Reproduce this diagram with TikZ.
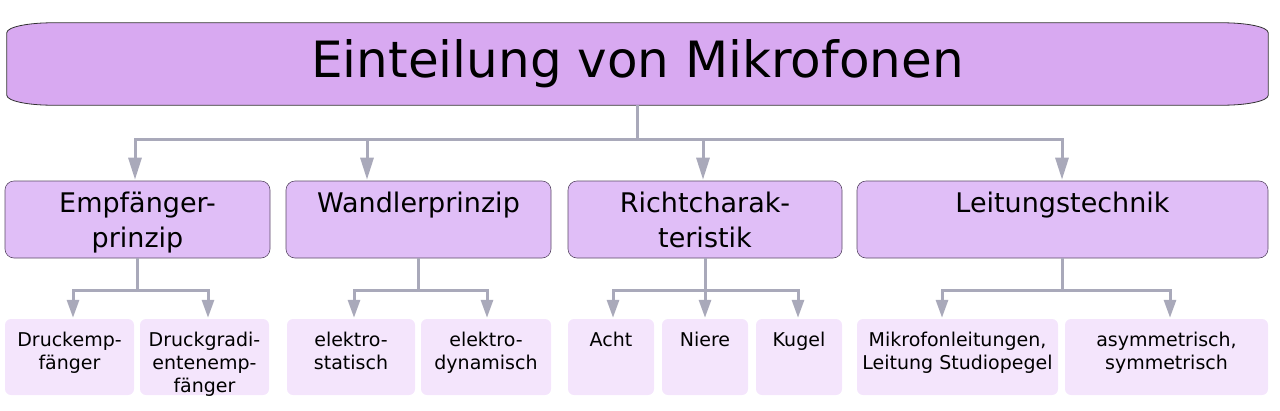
\documentclass[tikz,border=0pt]{standalone}
\usepackage{fontspec}
\setmainfont{DejaVu Sans}
\usetikzlibrary{arrows.meta,calc}
\definecolor{topfill}{HTML}{D8A9F1}
\definecolor{midfill}{HTML}{E0BEF7}
\definecolor{lowfill}{HTML}{F4E5FC}
\definecolor{linecol}{HTML}{A9A9BA}
\definecolor{edgecol}{HTML}{5A4A66}
\tikzset{
  topbox/.style={inner sep=0pt, minimum width=1261pt, minimum height=82pt, font=\fontsize{50}{60}\selectfont},
  midbox/.style={inner sep=0pt, fill=midfill, draw=edgecol, line width=0.6pt, rounded corners=9pt},
  lowbox/.style={inner sep=0pt, fill=lowfill, rounded corners=6pt},
  conn/.style={draw=linecol, line width=3pt},
  arr/.style={conn, -{Triangle[length=22pt,width=13pt]}, shorten >=1pt},
  arrlow/.style={conn, -{Triangle[length=18pt,width=12pt]}, shorten >=1pt},
}
\newcommand{\midtext}[3]{\parbox[c][77pt][t]{#1pt}{\centering\fontsize{27}{35}\selectfont\rule{0pt}{31pt}#2\par}}
\newcommand{\lowtext}[2]{\parbox[c][76pt][t]{#1pt}{\centering\fontsize{19}{23}\selectfont\rule{0pt}{27pt}#2\par}}
\begin{document}
\begin{tikzpicture}[x=1pt,y=-1pt]
\useasboundingbox (0,0) rectangle (1280,410);
% title
\node[topbox] (top) at (637.5,64) {};
\fill[topfill, draw=black!80, line width=0.8pt]
  ($(top.north west)+(0,10)$) -- ($(top.south west)+(0,-10)$)
  .. controls ($(top.south west)+(0,-4)$) and ($(top.south west)+(22,0)$) .. ($(top.south west)+(45,0)$)
  -- ($(top.south east)+(-45,0)$)
  .. controls ($(top.south east)+(-22,0)$) and ($(top.south east)+(0,-4)$) .. ($(top.south east)+(0,-10)$)
  -- ($(top.north east)+(0,10)$)
  .. controls ($(top.north east)+(0,4)$) and ($(top.north east)+(-22,0)$) .. ($(top.north east)+(-45,0)$)
  -- ($(top.north west)+(45,0)$)
  .. controls ($(top.north west)+(22,0)$) and ($(top.north west)+(0,4)$) .. cycle;
\node[topbox] at (top.center) {Einteilung von Mikrofonen};
% level 2
\node[midbox] (b1) at (137.5,219.5) {\midtext{265}{Empfänger-\\prinzip}{}};
\node[midbox] (b2) at (418.5,219.5) {\midtext{265}{Wandlerprinzip}{}};
\node[midbox] (b3) at (705,219.5) {\midtext{274}{Richtcharak-\\teristik}{}};
\node[midbox] (b4) at (1062.5,219.5) {\midtext{411}{Leitungstechnik}{}};
% level 3
\node[lowbox] (c1a) at (69.5,357) {\lowtext{129}{Druckemp-\\fänger}};
\node[lowbox] (c1b) at (204.5,357) {\lowtext{129}{Druckgradi-\\entenemp-\\fänger}};
\node[lowbox] (c2a) at (351,357) {\lowtext{128}{elektro-\\statisch}};
\node[lowbox] (c2b) at (486,357) {\lowtext{130}{elektro-\\dynamisch}};
\node[lowbox] (c3a) at (611,357) {\lowtext{86}{Acht}};
\node[lowbox] (c3b) at (705,357) {\lowtext{86}{Niere}};
\node[lowbox] (c3c) at (799,357) {\lowtext{86}{Kugel}};
\node[lowbox] (c4a) at (957.5,357) {\lowtext{201}{Mikrofonleitungen,\\Leitung Studiopegel}};
\node[lowbox] (c4b) at (1166.5,357) {\lowtext{203}{asymmetrisch,\\symmetrisch}};
% top bus
\coordinate (j1) at (135,139);
\coordinate (j2) at (367,139);
\coordinate (j3) at (703,139);
\coordinate (j4) at (1062,139);
\draw[conn] (top.south) -- (top.south |- j1);
\draw[conn, line cap=rect] (j1) -- (j4);
\draw[arr] (j1) -- (j1 |- b1.north);
\draw[arr] (j2) -- (j2 |- b2.north);
\draw[arr] (j3) -- (j3 |- b3.north);
\draw[arr] (j4) -- (j4 |- b4.north);
% lower buses
\coordinate (k1a) at (73,290);
\coordinate (k1b) at (208,290);
\coordinate (k2a) at (354,290);
\coordinate (k2b) at (487,290);
\coordinate (k3a) at (613,290);
\coordinate (k3b) at (705,290);
\coordinate (k3c) at (798,290);
\coordinate (k4a) at (942,290);
\coordinate (k4b) at (1170,290);
\draw[conn] (b1.south) -- (b1.south |- k1a);
\draw[conn] (b2.south) -- (b2.south |- k2a);
\draw[conn] (b3.south) -- (b3.south |- k3a);
\draw[conn] (b4.south) -- (b4.south |- k4a);
\draw[conn, line cap=rect] (k1a) -- (k1b);
\draw[conn, line cap=rect] (k2a) -- (k2b);
\draw[conn, line cap=rect] (k3a) -- (k3c);
\draw[conn, line cap=rect] (k4a) -- (k4b);
\draw[arrlow] (k1a) -- (k1a |- c1a.north);
\draw[arrlow] (k1b) -- (k1b |- c1b.north);
\draw[arrlow] (k2a) -- (k2a |- c2a.north);
\draw[arrlow] (k2b) -- (k2b |- c2b.north);
\draw[arrlow] (k3a) -- (k3a |- c3a.north);
\draw[arrlow] (k3b) -- (k3b |- c3b.north);
\draw[arrlow] (k3c) -- (k3c |- c3c.north);
\draw[arrlow] (k4a) -- (k4a |- c4a.north);
\draw[arrlow] (k4b) -- (k4b |- c4b.north);
\end{tikzpicture}
\end{document}
